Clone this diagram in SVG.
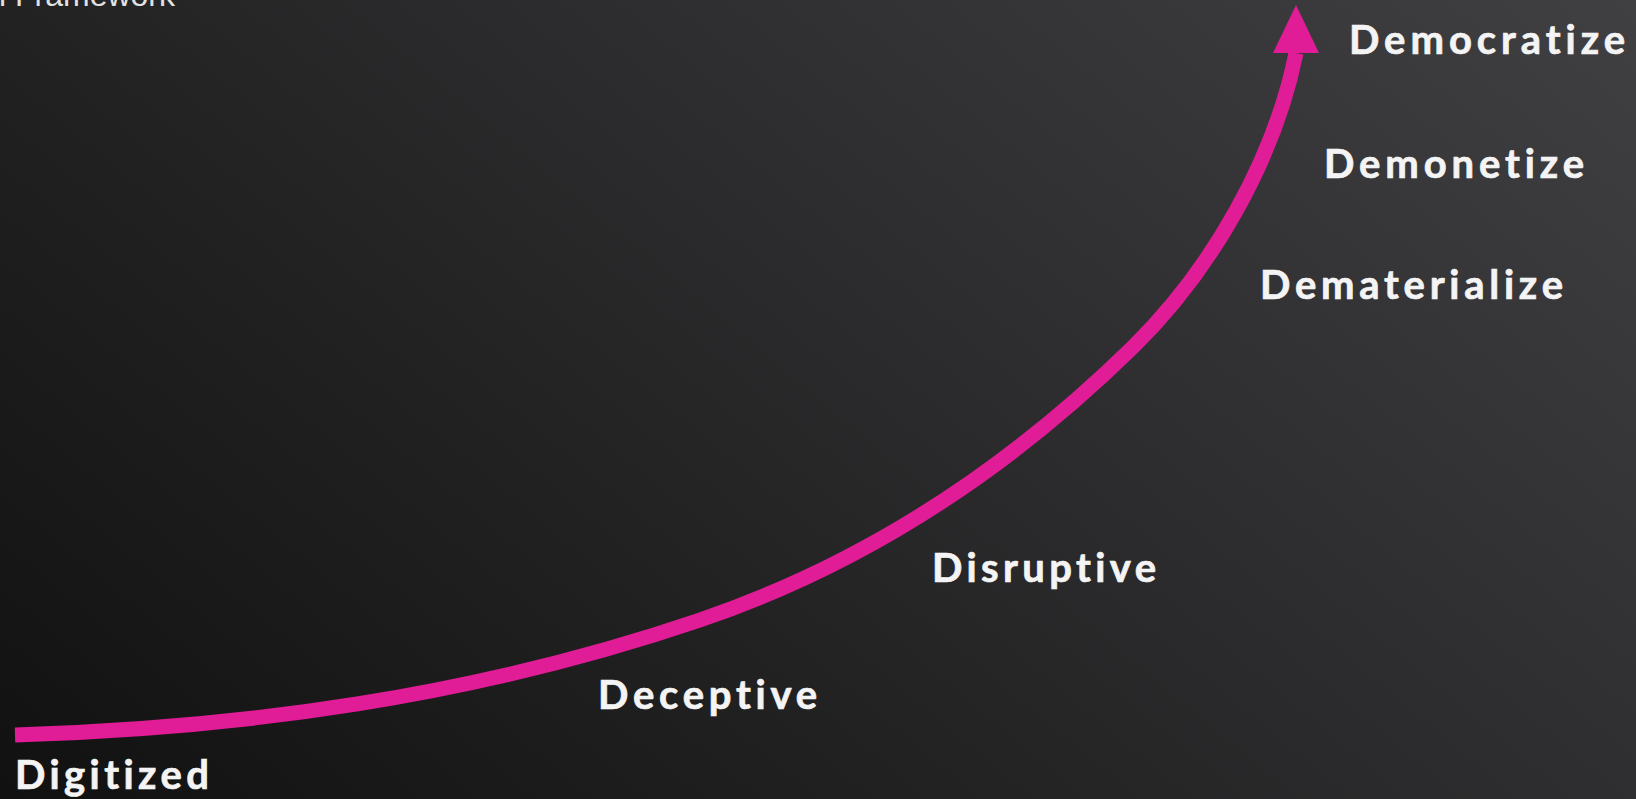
<svg xmlns="http://www.w3.org/2000/svg" width="1636" height="799" viewBox="0 0 1636 799">
  <defs>
    <linearGradient id="bg" gradientUnits="userSpaceOnUse" x1="0" y1="799" x2="1063" y2="-477">
      <stop offset="0" stop-color="#111111"/>
      <stop offset="1" stop-color="#403f42"/>
    </linearGradient>
    <marker id="head" markerUnits="userSpaceOnUse" viewBox="0 0 48 46" refX="0" refY="23" markerWidth="48" markerHeight="46" orient="270">
      <path d="M0,0 L48,23 L0,46 Z" fill="#e01c96"/>
    </marker>
    <style>
      .label { font-family: Lato, "Noto Sans", "Liberation Sans", sans-serif; font-weight: 700; font-size: 40px; fill: #f4f4f4; stroke: #f4f4f4; stroke-width: 0.7px; font-variant-ligatures: none; font-feature-settings: "liga" 0, "clig" 0; }
      .title { font-family: "Liberation Sans", Arial, sans-serif; font-size: 32px; fill: #e2e2e2; }
      .curve { fill: none; stroke: #e01c96; stroke-width: 15; stroke-linecap: butt; }
    </style>
  </defs>

  <rect x="0" y="0" width="1636" height="799" fill="url(#bg)"/>

  <text class="title" x="175" y="6" text-anchor="end">Exponential Framework</text>

  <g id="connectors">
    <path class="curve" marker-end="url(#head)" d="M15,735 C243,728 472,697.5 700,620 C860,565.6 1003,474.4 1133,347 C1211.5,270 1274.4,160 1296,53"/>
  </g>

  <g id="digitized"><text class="label" x="15" y="789" textLength="194" lengthAdjust="spacing">Digitized</text></g>
  <g id="deceptive"><text class="label" x="598" y="709" textLength="219" lengthAdjust="spacing">Deceptive</text></g>
  <g id="disruptive"><text class="label" x="932" y="582" textLength="224" lengthAdjust="spacing">Disruptive</text></g>
  <g id="dematerialize"><text class="label" x="1260" y="299" textLength="303" lengthAdjust="spacing">Dematerialize</text></g>
  <g id="demonetize"><text class="label" x="1324" y="178" textLength="260" lengthAdjust="spacing">Demonetize</text></g>
  <g id="democratize"><text class="label" x="1349" y="54" textLength="276" lengthAdjust="spacing">Democratize</text></g>
</svg>
